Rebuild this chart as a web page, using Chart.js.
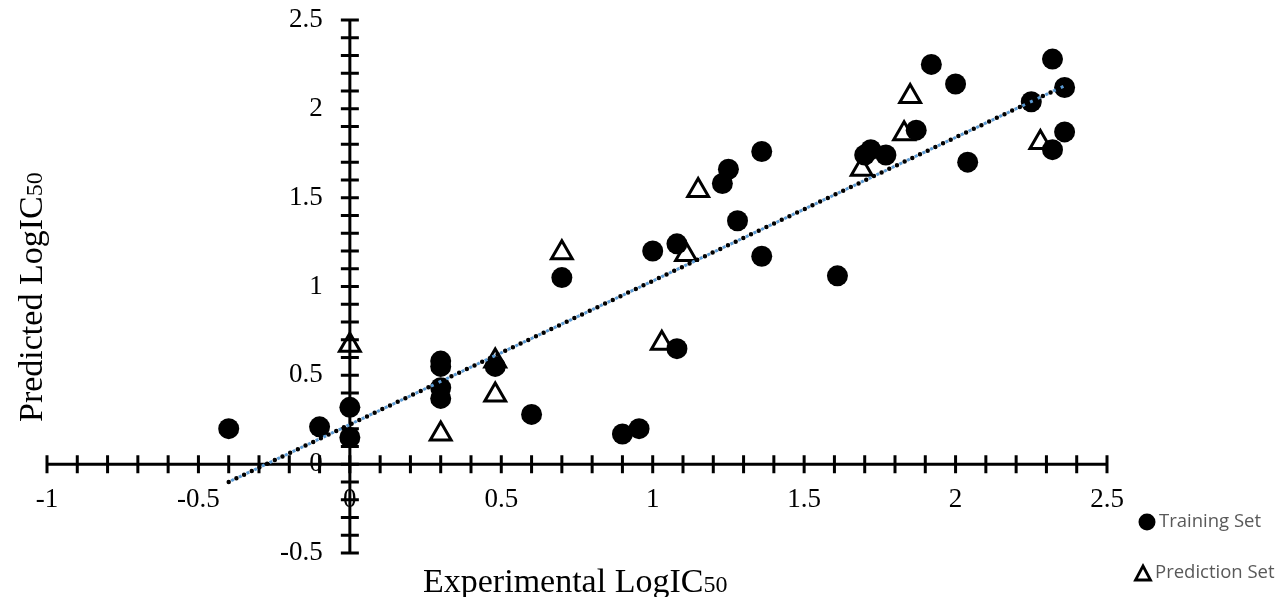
<!DOCTYPE html>
<html>
<head>
<meta charset="utf-8">
<script src="https://cdn.jsdelivr.net/npm/chart.js@4"></script>
<style>
  html, body { margin: 0; padding: 0; background: #fff; }
  #wrap { position: relative; width: 1285px; height: 597px; }
</style>
</head>
<body>
<div id="wrap"><canvas id="qsarChart" width="1285" height="597"></canvas></div>
<script>
// values
var trainingX = [-0.40, -0.10, 0.00, 0.00, 0.30, 0.30, 0.30, 0.30, 0.48, 0.60, 0.90, 0.955, 1.08, 0.70, 1.00, 1.08, 1.28, 1.23, 1.25, 1.36, 1.36, 1.61, 1.70, 1.72, 1.77, 1.87, 1.92, 2.00, 2.04, 2.25, 2.32, 2.36, 2.36, 2.32];
var trainingY = [0.20, 0.21, 0.32, 0.15, 0.58, 0.55, 0.43, 0.37, 0.55, 0.28, 0.17, 0.20, 0.65, 1.05, 1.20, 1.24, 1.37, 1.58, 1.66, 1.76, 1.17, 1.06, 1.74, 1.77, 1.74, 1.88, 2.25, 2.14, 1.70, 2.04, 2.28, 2.12, 1.87, 1.77];
var predictionX = [0.00, 0.30, 0.48, 0.48, 0.70, 1.15, 1.11, 1.03, 1.69, 1.83, 1.85, 2.28];
var predictionY = [0.67, 0.17, 0.39, 0.58, 1.19, 1.54, 1.18, 0.68, 1.66, 1.86, 2.07, 1.81];
var trendX = [-0.40, 2.36];
var trendY = [-0.10, 2.13];

var xTicks = [-1, -0.5, 0, 0.5, 1, 1.5, 2, 2.5];
var xTickLabels = ['-1', '-0.5', '0', '0.5', '1', '1.5', '2', '2.5'];
var yTicks = [-0.5, 0, 0.5, 1, 1.5, 2, 2.5];
var yTickLabels = ['-0.5', '0', '0.5', '1', '1.5', '2', '2.5'];
var minorStep = 0.1;

var xTitle = ['Experimental LogIC', '50'];
var yTitle = ['Predicted LogIC', '50'];
var legendLabels = ['Training Set', 'Prediction Set'];

function toPoints(xs, ys) {
  return xs.map(function(x, i) { return { x: x, y: ys[i] }; });
}

var serif = '"Liberation Serif", "Times New Roman", serif';

function drawTitle(ctx, parts, x, y, size) {
  ctx.font = size + 'px ' + serif;
  var w1 = ctx.measureText(parts[0]).width;
  ctx.fillText(parts[0], x, y);
  ctx.font = Math.round(size * 0.7) + 'px ' + serif;
  ctx.fillText(parts[1], x + w1, y);
}

// axes cross at the origin, ticks cross the axis lines
var crossAxes = {
  id: 'crossAxes',
  beforeDatasetsDraw: function(chart) {
    var ctx = chart.ctx;
    var xs = chart.scales.x, ys = chart.scales.y;
    var x0 = xs.getPixelForValue(0), y0 = ys.getPixelForValue(0);
    var i, p;
    ctx.save();
    ctx.strokeStyle = '#000';
    ctx.lineWidth = 3;
    ctx.beginPath();
    ctx.moveTo(xs.left, y0); ctx.lineTo(xs.right, y0);
    ctx.moveTo(x0, ys.top); ctx.lineTo(x0, ys.bottom);
    ctx.stroke();

    ctx.beginPath();
    var nx = Math.round((xs.max - xs.min) / minorStep);
    for (i = 0; i <= nx; i++) {
      p = xs.getPixelForValue(xs.min + i * minorStep);
      ctx.moveTo(p, y0 - 9); ctx.lineTo(p, y0 + 9);
    }
    var ny = Math.round((ys.max - ys.min) / minorStep);
    for (i = 0; i <= ny; i++) {
      p = ys.getPixelForValue(ys.min + i * minorStep);
      ctx.moveTo(x0 - 9, p); ctx.lineTo(x0 + 9, p);
    }
    ctx.stroke();

    ctx.fillStyle = '#000';
    ctx.font = '27px ' + serif;
    ctx.textAlign = 'center';
    ctx.textBaseline = 'middle';
    xTicks.forEach(function(v, k) {
      ctx.fillText(xTickLabels[k], xs.getPixelForValue(v), y0 + 36);
    });
    ctx.textAlign = 'right';
    yTicks.forEach(function(v, k) {
      ctx.fillText(yTickLabels[k], x0 - 27, ys.getPixelForValue(v));
    });

    ctx.textAlign = 'left';
    ctx.textBaseline = 'alphabetic';
    drawTitle(ctx, xTitle, 423, 592, 34);
    ctx.save();
    ctx.translate(42, 422);
    ctx.rotate(-Math.PI / 2);
    drawTitle(ctx, yTitle, 0, 0, 34);
    ctx.restore();

    // legend
    ctx.fillStyle = '#000';
    ctx.beginPath();
    ctx.arc(1147, 522, 8.5, 0, Math.PI * 2);
    ctx.fill();
    ctx.lineWidth = 2.8;
    ctx.beginPath();
    ctx.moveTo(1143, 566); ctx.lineTo(1150.5, 580); ctx.lineTo(1135.5, 580); ctx.closePath();
    ctx.stroke();
    ctx.fillStyle = '#595959';
    ctx.font = '18.5px "Open Sans", sans-serif';
    ctx.textBaseline = 'middle';
    ctx.fillText(legendLabels[0], 1159, 522);
    ctx.fillText(legendLabels[1], 1155, 573);
    ctx.restore();
  }
};

var chart = new Chart(document.getElementById('qsarChart').getContext('2d'), {
  type: 'scatter',
  data: {
    datasets: [
      {
        type: 'line',
        label: 'trend',
        data: toPoints(trendX, trendY),
        borderColor: '#000',
        borderWidth: 4.5,
        borderDash: [0, 8.5],
        borderCapStyle: 'round',
        pointRadius: 0,
        fill: false
      },
      {
        type: 'line',
        label: 'trend blue',
        data: toPoints(trendX, trendY),
        borderColor: '#5b9bd5',
        borderWidth: 3,
        borderDash: [3, 5.5],
        borderDashOffset: -2.75,
        pointRadius: 0,
        fill: false
      },
      {
        label: legendLabels[0],
        data: toPoints(trainingX, trainingY),
        pointStyle: 'circle',
        pointRadius: 10.5,
        backgroundColor: '#000',
        borderWidth: 0
      },
      {
        label: legendLabels[1],
        data: toPoints(predictionX, predictionY),
        pointStyle: 'triangle',
        pointRadius: 12,
        backgroundColor: 'rgba(0,0,0,0)',
        borderColor: '#000',
        borderWidth: 3
      }
    ]
  },
  options: {
    responsive: false,
    animation: false,
    layout: { padding: { left: 47, right: 178, top: 20, bottom: 44 } },
    scales: {
      x: { type: 'linear', min: -1, max: 2.5, display: false },
      y: { type: 'linear', min: -0.5, max: 2.5, display: false }
    },
    plugins: {
      legend: { display: false },
      tooltip: { enabled: false }
    }
  },
  plugins: [crossAxes]
});
</script>
</body>
</html>
